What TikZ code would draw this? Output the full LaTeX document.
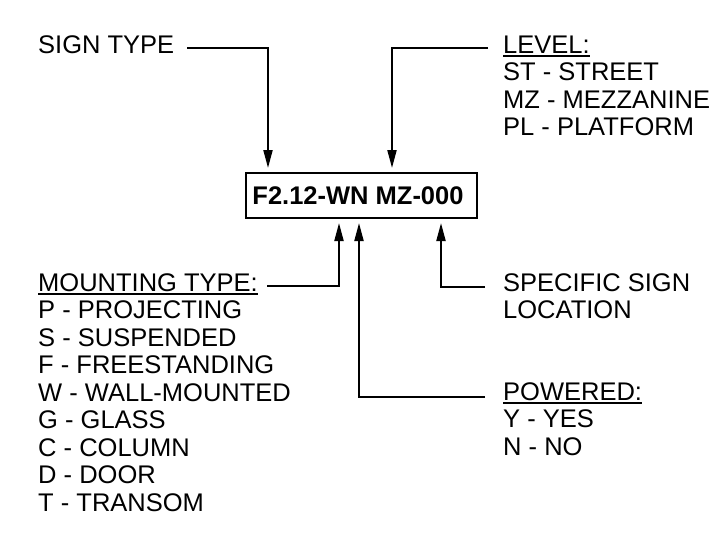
\documentclass[tikz,border=0pt]{standalone}
\usepackage{fontspec}
\setmainfont{Liberation Sans}
\usetikzlibrary{arrows.meta}
\begin{document}
\begin{tikzpicture}[x=1pt,y=-1pt,
  lbl/.style={anchor=base west, inner sep=0pt, font=\fontsize{25.5}{28}\selectfont},
  conn/.style={line width=2pt, -{Triangle[length=18pt,width=9pt]}},
  uline/.style={line width=1.8pt}]
\useasboundingbox[fill=white] (0,0) rectangle (720,550);
% central code box
\node[draw, line width=2pt, minimum width=231pt, minimum height=45pt, inner sep=0pt,
      font=\bfseries\fontsize{25.5}{28}\selectfont] (code) at (361.5,195.5) {\kern-7pt F2.12-WN MZ-000};
% sign type
\node[lbl] (sign) at (38,53) {SIGN TYPE};
% level
\node[lbl] (level) at (503,53) {LEVEL:};
\node[lbl] (l1) at (503,80.5) {ST - STREET};
\node[lbl] (l2) at (503,108) {MZ - MEZZANINE};
\node[lbl] (l3) at (503,135.5) {PL - PLATFORM};
% mounting type
\node[lbl] (mount) at (38,291) {MOUNTING TYPE:};
\node[lbl] (m1) at (38,318.5) {P - PROJECTING};
\node[lbl] (m2) at (38,346) {S - SUSPENDED};
\node[lbl] (m3) at (38,373.5) {F - FREESTANDING};
\node[lbl] (m4) at (38,401) {W - WALL-MOUNTED};
\node[lbl] (m5) at (38,428.5) {G - GLASS};
\node[lbl] (m6) at (38,456) {C - COLUMN};
\node[lbl] (m7) at (38,483.5) {D - DOOR};
\node[lbl] (m8) at (38,511) {T - TRANSOM};
% specific sign location
\node[lbl] (spec) at (503,291) {SPECIFIC SIGN};
\node[lbl] (spec2) at (503,318.5) {LOCATION};
% powered
\node[lbl] (pow) at (503,400) {POWERED:};
\node[lbl] (p1) at (503,427.5) {Y - YES};
\node[lbl] (p2) at (503,455) {N - NO};
% underlines
\draw[uline] ([yshift=-3pt]level.base west) -- ([yshift=-3pt]level.base east);
\draw[uline] ([yshift=-3pt]mount.base west) -- ([yshift=-3pt]mount.base east);
\draw[uline] ([yshift=-3pt]pow.base west) -- ([yshift=-3pt]pow.base east);
% connectors
\draw[conn] ([xshift=13pt,yshift=2.4pt]sign.mid east) -| ([xshift=-93.5pt,yshift=4pt]code.north);
\draw[conn] ([xshift=-15pt,yshift=2.4pt]level.mid west) -| ([xshift=30.5pt,yshift=4pt]code.north);
\draw[conn] ([xshift=9.5pt,yshift=2.4pt]mount.mid east) -| ([xshift=-22.5pt,yshift=-4pt]code.south);
\draw[conn] ([xshift=-18pt,yshift=0.4pt]pow.mid west) -| ([xshift=-2.5pt,yshift=-4pt]code.south);
\draw[conn] ([xshift=-18pt,yshift=1.4pt]spec.mid west) -| ([xshift=79.5pt,yshift=-4pt]code.south);
\end{tikzpicture}
\end{document}
